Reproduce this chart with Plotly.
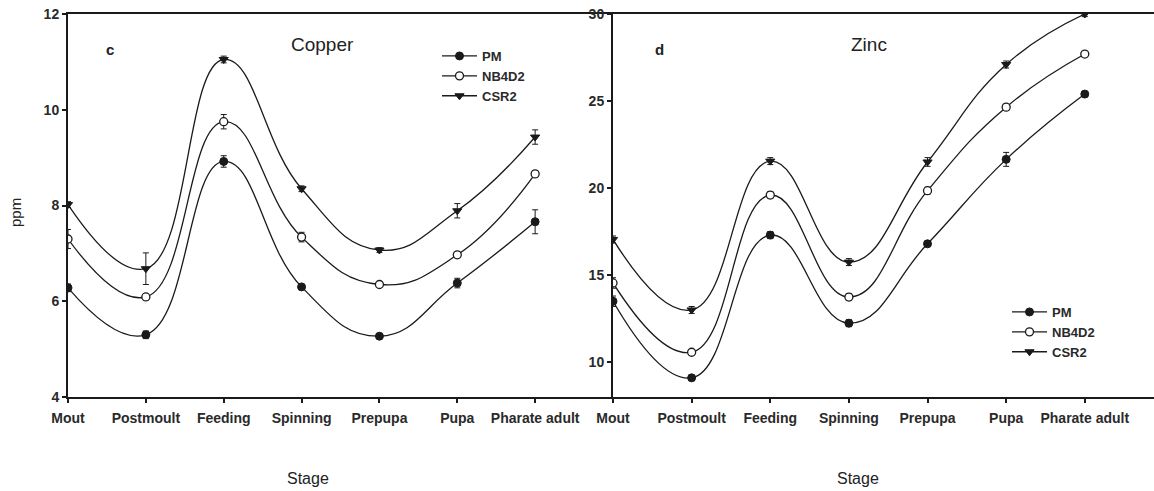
import plotly.graph_objects as go

stages = ["Mout", "Postmoult", "Feeding", "Spinning", "Prepupa", "Pupa", "Pharate adult"]
series_names = ["PM", "NB4D2", "CSR2"]

# Copper (panel c)
cu_pm = [6.28, 5.3, 8.92, 6.3, 5.27, 6.38, 7.66]
cu_nb = [7.3, 6.09, 9.75, 7.34, 6.35, 6.97, 8.66]
cu_csr = [8.02, 6.68, 11.05, 8.35, 7.07, 7.89, 9.43]
cu_pm_err = [0.08, 0.08, 0.12, 0.05, 0.04, 0.1, 0.25]
cu_nb_err = [0.2, 0.06, 0.15, 0.1, 0.04, 0.06, 0.06]
cu_csr_err = [0.06, 0.33, 0.07, 0.06, 0.05, 0.15, 0.15]

# Zinc (panel d)
zn_pm = [13.5, 9.1, 17.3, 12.24, 16.8, 21.65, 25.4]
zn_nb = [14.55, 10.57, 19.6, 13.74, 19.85, 24.65, 27.7]
zn_csr = [17.05, 13.0, 21.55, 15.75, 21.5, 27.1, 30.0]
zn_pm_err = [0.3, 0.15, 0.2, 0.2, 0.15, 0.4, 0.15]
zn_nb_err = [0.3, 0.15, 0.2, 0.2, 0.2, 0.15, 0.15]
zn_csr_err = [0.2, 0.2, 0.2, 0.2, 0.25, 0.2, 0.15]

x_idx = list(range(len(stages)))

W, H = 1154, 491
mt, mb = 14, 94
plot_h = H - mt - mb
x0_px, xm_px = 68, 613

def py(p):
    return 1 - (p - mt) / plot_h

def px(p):
    return p / W

INK = "#1a1a1a"
font_main = "Liberation Sans, Arial, sans-serif"

styles = [
    dict(symbol="circle", color=INK, line=dict(color=INK, width=1)),
    dict(symbol="circle", color="white", line=dict(color=INK, width=1.3)),
    dict(symbol="triangle-down", color=INK, line=dict(color=INK, width=1)),
]

fig = go.Figure()

cu_sets = [(cu_pm, cu_pm_err), (cu_nb, cu_nb_err), (cu_csr, cu_csr_err)]
zn_sets = [(zn_pm, zn_pm_err), (zn_nb, zn_nb_err), (zn_csr, zn_csr_err)]

def add_panel(sets, xa, ya, lg):
    for i, (vals, errs) in enumerate(sets):
        st = styles[i]
        fig.add_trace(go.Scatter(
            x=x_idx, y=vals, name=series_names[i], mode="lines+markers",
            line=dict(color=INK, width=1.3, shape="spline", smoothing=1.3),
            marker=dict(symbol=st["symbol"], size=8, color=st["color"], line=st["line"]),
            error_y=dict(type="data", array=errs, visible=True, color=INK, thickness=1, width=3),
            xaxis=xa, yaxis=ya, legend=lg,
        ))

add_panel(cu_sets, "x", "y", "legend")
add_panel(zn_sets, "x2", "y2", "legend2")

tickfont = dict(family=font_main, size=14, color="#2a2a2a", weight="bold")

common_x = dict(
    tickmode="array", tickvals=x_idx, ticktext=stages,
    showline=True, linecolor=INK, linewidth=2, mirror=True,
    ticks="outside", ticklen=4, tickwidth=1.5, tickcolor=INK,
    showgrid=False, zeroline=False, tickfont=tickfont, automargin=False,
    ticklabelstandoff=3,
)
common_y = dict(
    showline=True, linecolor=INK, linewidth=2,
    ticks="outside", ticklen=4, tickwidth=1.5, tickcolor=INK,
    showgrid=False, zeroline=False, tickfont=tickfont, automargin=False,
)

legfont = dict(family=font_main, size=13, color="#2a2a2a", weight="bold")

fig.update_layout(
    width=W, height=H,
    margin=dict(l=0, r=0, t=mt, b=mb),
    paper_bgcolor="white", plot_bgcolor="white",
    font=dict(family=font_main, color="#222"),
    xaxis=dict(domain=[px(x0_px), px(xm_px)], range=[0, 7], anchor="y", **common_x),
    yaxis=dict(range=[4, 12], tickvals=[4, 6, 8, 10, 12], anchor="x", **common_y),
    xaxis2=dict(domain=[px(xm_px), 1.0], range=[0, 6.88], anchor="y2", **common_x),
    yaxis2=dict(range=[8, 30], tickvals=[10, 15, 20, 25, 30], anchor="x2", **common_y),
    legend=dict(x=px(437), y=py(41), xanchor="left", yanchor="top",
                bgcolor="rgba(0,0,0,0)", font=legfont, itemwidth=35, tracegroupgap=0),
    legend2=dict(x=px(1007), y=py(297), xanchor="left", yanchor="top",
                 bgcolor="rgba(0,0,0,0)", font=legfont, itemwidth=35, tracegroupgap=0),
    showlegend=True,
)

ann = [
    dict(text="<b>c</b>", x=px(110), y=py(49), size=15),
    dict(text="Copper", x=px(322), y=py(45), size=19),
    dict(text="<b>d</b>", x=px(659), y=py(49), size=15),
    dict(text="Zinc", x=px(869), y=py(45), size=19),
    dict(text="Stage", x=px(308), y=py(478), size=16),
    dict(text="Stage", x=px(858), y=py(478), size=16),
    dict(text="ppm", x=px(15), y=py(213), size=15, angle=-90),
]
for a in ann:
    fig.add_annotation(xref="paper", yref="paper", showarrow=False,
                       xanchor="center", yanchor="middle",
                       text=a["text"], x=a["x"], y=a["y"],
                       textangle=a.get("angle", 0),
                       font=dict(family=font_main, color="#222", size=a["size"]))

fig.write_html("out.html",
               config={"displayModeBar": False},
               post_script="document.body.style.margin='0';document.body.style.overflow='hidden';")
